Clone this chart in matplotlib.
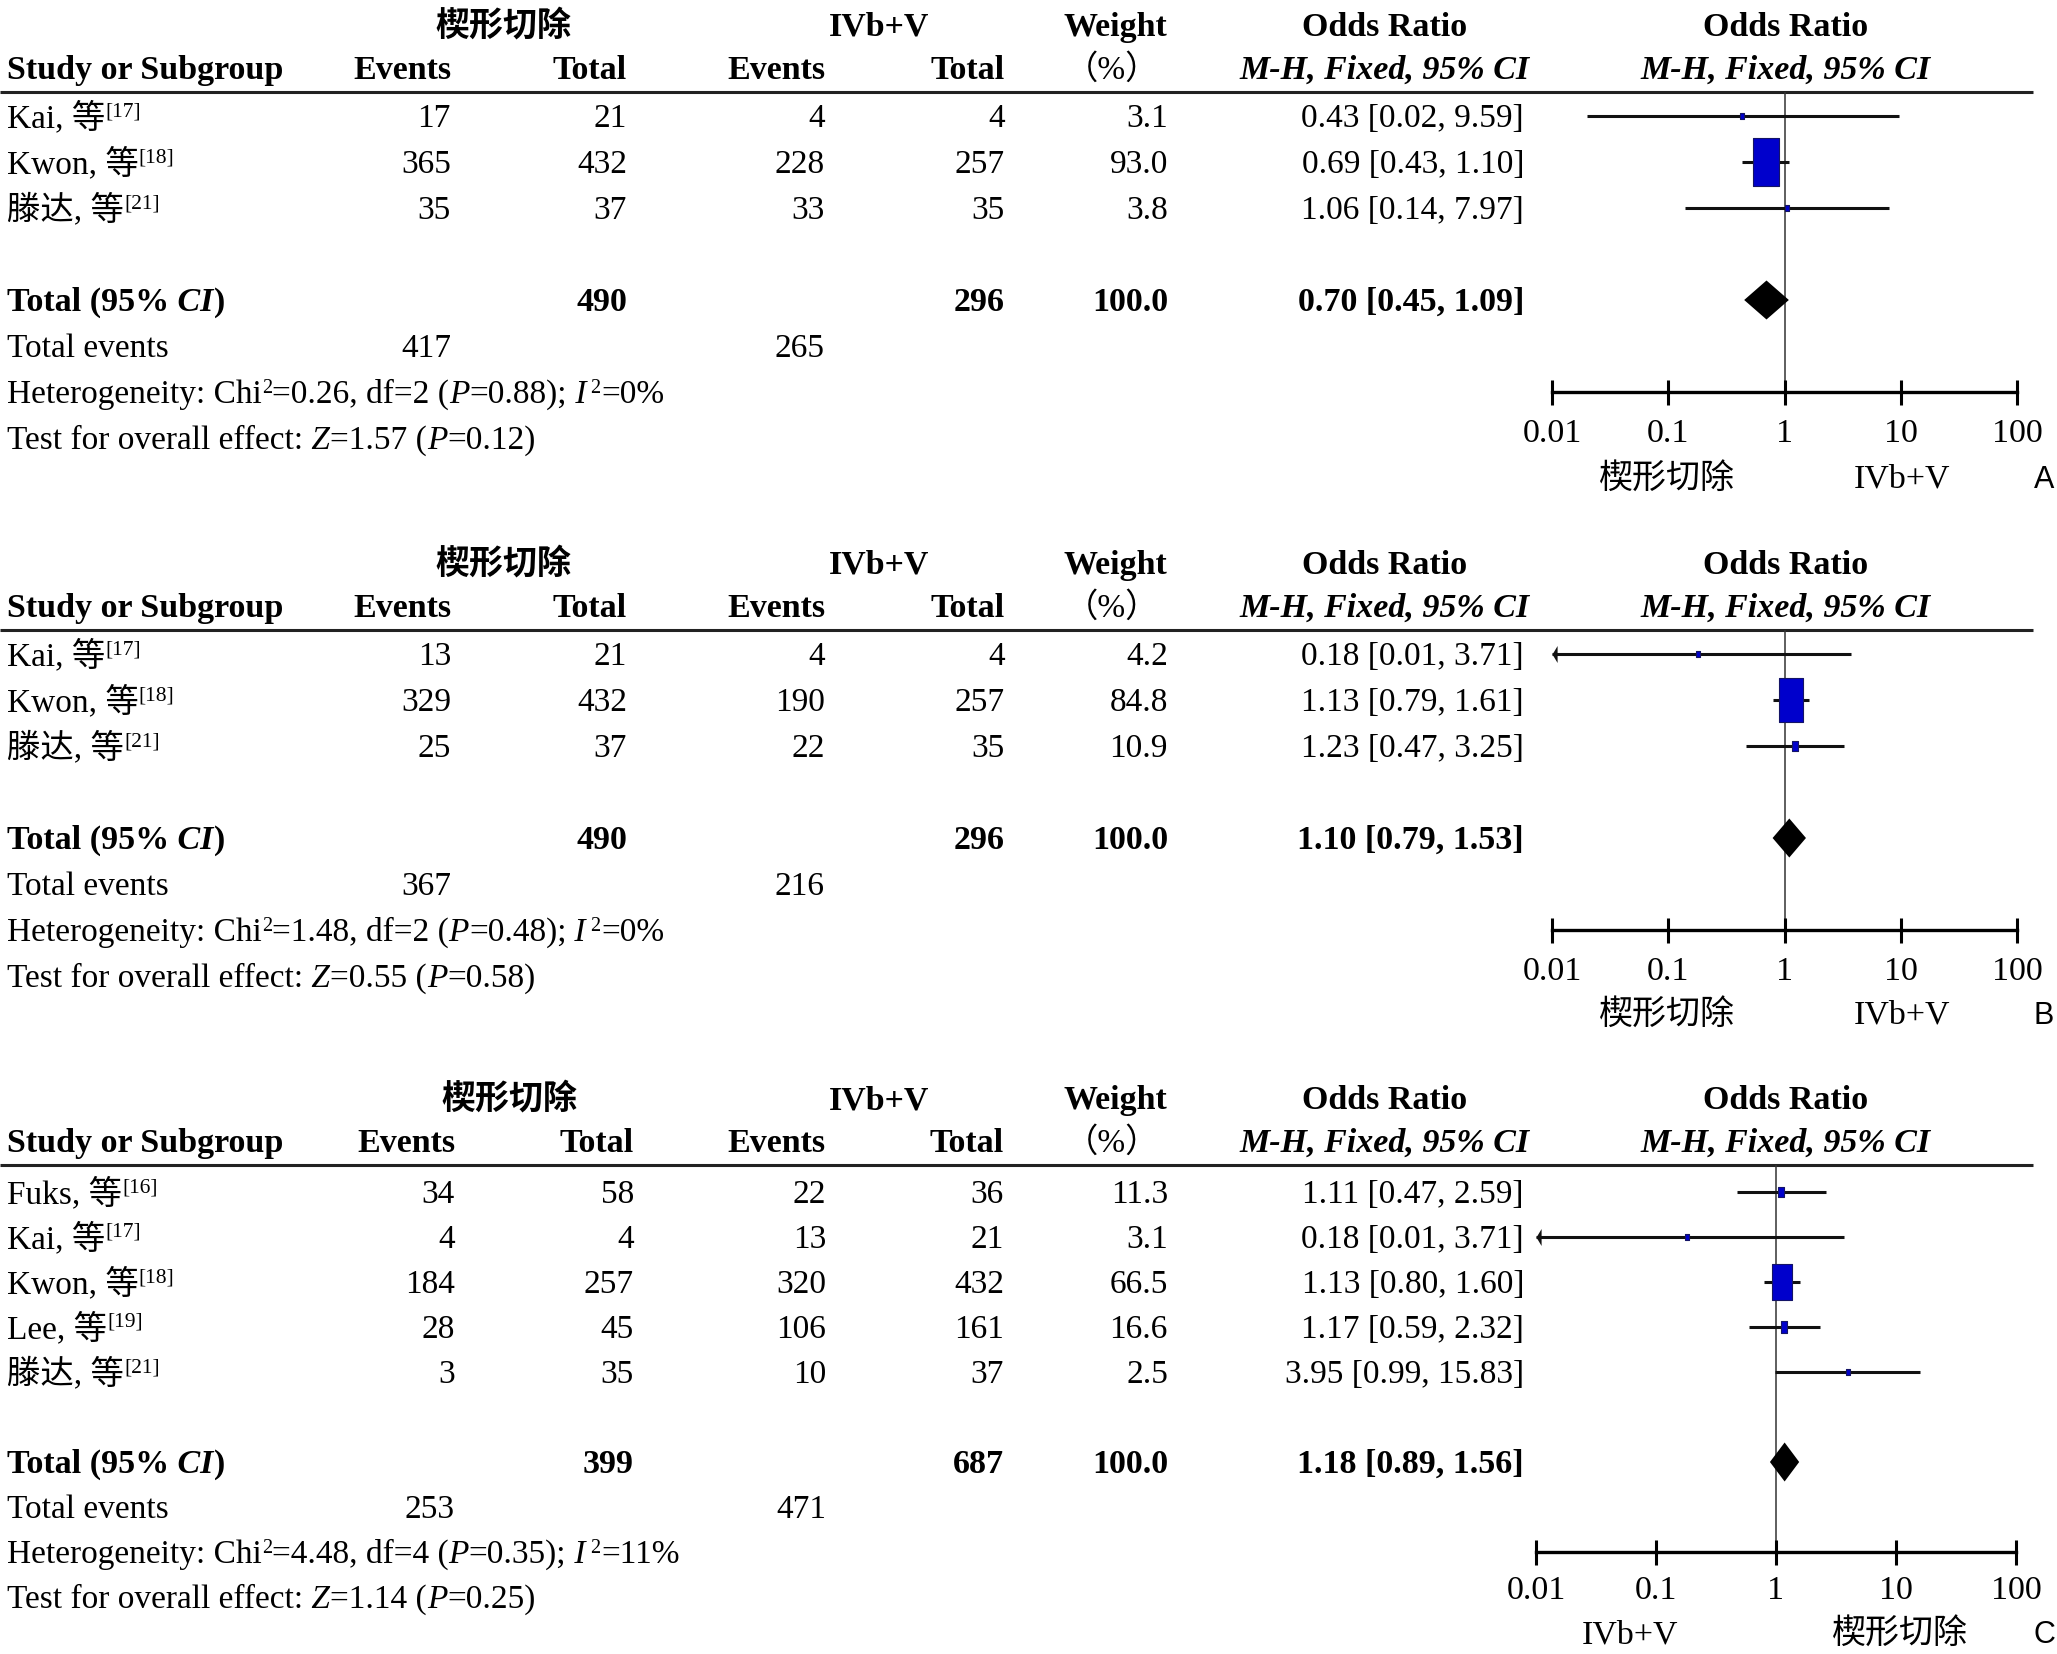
import matplotlib
matplotlib.use('Agg')
import matplotlib.pyplot as plt
from matplotlib.path import Path

# ---------------- data ----------------
tick_vals = [0.01, 0.1, 1, 10, 100]
tick_labels = ['0.01', '0.1', '1', '10', '100']
grp1 = '楔形切除'
grp2 = 'IVb+V'

# Panel A
names_A = ['Kai, 等', 'Kwon, 等', '滕达, 等']
refs_A = ['[17]', '[18]', '[21]']
ev1_A = [17, 365, 35]
tot1_A = [21, 432, 37]
ev2_A = [4, 228, 33]
tot2_A = [4, 257, 35]
wt_A = [3.1, 93.0, 3.8]
or_A = [0.43, 0.69, 1.06]
lo_A = [0.02, 0.43, 0.14]
hi_A = [9.59, 1.10, 7.97]
total_A = [490, 296, 0.70, 0.45, 1.09]   # n1, n2, OR, lo, hi
events_A = [417, 265]
het_A = ['0.26', '2', '0.88', '0%']      # chi2, df, P, I2
eff_A = ['1.57', '0.12']                 # Z, P

# Panel B
names_B = ['Kai, 等', 'Kwon, 等', '滕达, 等']
refs_B = ['[17]', '[18]', '[21]']
ev1_B = [13, 329, 25]
tot1_B = [21, 432, 37]
ev2_B = [4, 190, 22]
tot2_B = [4, 257, 35]
wt_B = [4.2, 84.8, 10.9]
or_B = [0.18, 1.13, 1.23]
lo_B = [0.01, 0.79, 0.47]
hi_B = [3.71, 1.61, 3.25]
total_B = [490, 296, 1.10, 0.79, 1.53]
events_B = [367, 216]
het_B = ['1.48', '2', '0.48', '0%']
eff_B = ['0.55', '0.58']

# Panel C
names_C = ['Fuks, 等', 'Kai, 等', 'Kwon, 等', 'Lee, 等', '滕达, 等']
refs_C = ['[16]', '[17]', '[18]', '[19]', '[21]']
ev1_C = [34, 4, 184, 28, 3]
tot1_C = [58, 4, 257, 45, 35]
ev2_C = [22, 13, 320, 106, 10]
tot2_C = [36, 21, 432, 161, 37]
wt_C = [11.3, 3.1, 66.5, 16.6, 2.5]
or_C = [1.11, 0.18, 1.13, 1.17, 3.95]
lo_C = [0.47, 0.01, 0.80, 0.59, 0.99]
hi_C = [2.59, 3.71, 1.60, 2.32, 15.83]
total_C = [399, 687, 1.18, 0.89, 1.56]
events_C = [253, 471]
het_C = ['4.48', '4', '0.35', '11%']
eff_C = ['1.14', '0.25']

# ---------------- layout ----------------
W, H = 2057, 1654
SERIF = ['Liberation Serif', 'Noto Sans CJK SC', 'DejaVu Sans']
plt.rcParams['font.family'] = SERIF
FS = 24.0
FSB = 24.5
PX = 100 / 72.0  # px per point

fig = plt.figure(figsize=(W / 100, H / 100), dpi=100)
bg = fig.add_axes([0, 0, 1, 1])
bg.set_xlim(0, W)
bg.set_ylim(H, 0)
bg.axis('off')
renderer = fig.canvas.get_renderer()

panels = [
    dict(letter='A', names=names_A, refs=refs_A, ev1=ev1_A, tot1=tot1_A, ev2=ev2_A, tot2=tot2_A,
         wt=wt_A, orr=or_A, lo=lo_A, hi=hi_A, total=total_A, events=events_A, het=het_A, eff=eff_A,
         line_y=92, row0=116, sp=46, ax_x=(1552, 2017), tick_off=38, grp_off=85,
         cols=(451, 627, 825, 1005), g1x=503, left_lab=grp1, right_lab=grp2,
         lab_x=(1667, 1902)),
    dict(letter='B', names=names_B, refs=refs_B, ev1=ev1_B, tot1=tot1_B, ev2=ev2_B, tot2=tot2_B,
         wt=wt_B, orr=or_B, lo=lo_B, hi=hi_B, total=total_B, events=events_B, het=het_B, eff=eff_B,
         line_y=630, row0=654, sp=46, ax_x=(1552, 2017), tick_off=38, grp_off=83,
         cols=(451, 627, 825, 1005), g1x=503, left_lab=grp1, right_lab=grp2,
         lab_x=(1667, 1902)),
    dict(letter='C', names=names_C, refs=refs_C, ev1=ev1_C, tot1=tot1_C, ev2=ev2_C, tot2=tot2_C,
         wt=wt_C, orr=or_C, lo=lo_C, hi=hi_C, total=total_C, events=events_C, het=het_C, eff=eff_C,
         line_y=1165, row0=1192, sp=45, ax_x=(1536, 2016), tick_off=35, grp_off=80,
         cols=(455, 634, 826, 1004), g1x=509, left_lab=grp2, right_lab=grp1,
         lab_x=(1630, 1900)),
]

BASE = 11  # baseline offset below visual centre


def txt(x, y, s, ha='right', **kw):
    if kw.get('fontweight') == 'bold':
        kw.setdefault('fontsize', FSB)
    kw.setdefault('fontsize', FS)
    return bg.text(x, y + BASE, s, ha=ha, va='baseline', **kw)


def runs(x, y, parts):
    for s, kw in parts:
        kw = dict(kw)
        dy = kw.pop('dy', 0)
        if kw.get('fontweight') == 'bold':
            kw.setdefault('fontsize', FSB)
        kw.setdefault('fontsize', FS)
        t = bg.text(x, y + BASE - dy, s, ha='left', va='baseline', **kw)
        x += t.get_window_extent(renderer).width


def box_marker(aspect):
    a = aspect / 2.0
    return Path([(-a, -0.5), (a, -0.5), (a, 0.5), (-a, 0.5), (-a, -0.5)],
                [Path.MOVETO, Path.LINETO, Path.LINETO, Path.LINETO, Path.CLOSEPOLY])


arrow_marker = Path([(0, 0), (0.3, 0.5), (0.3, -0.5), (0, 0)],
                    [Path.MOVETO, Path.LINETO, Path.LINETO, Path.CLOSEPOLY])

SUP = dict(fontsize=15.5, dy=11)
SUP2 = dict(fontsize=14.5, dy=10)
IT = dict(style='italic')

for p in panels:
    n = len(p['names'])
    ly, r0, sp = p['line_y'], p['row0'], p['sp']
    c1, c2, c3, c4 = p['cols']
    rowy = lambda i: r0 + sp * i

    # headers
    txt(p['g1x'], ly - 67, grp1, ha='center', fontweight='bold')
    txt(879, ly - 67, grp2, ha='center', fontweight='bold')
    txt(1115, ly - 67, 'Weight', ha='center', fontweight='bold')
    txt(1385, ly - 67, 'Odds Ratio', ha='center', fontweight='bold')
    txt(1786, ly - 67, 'Odds Ratio', ha='center', fontweight='bold')
    txt(7, ly - 24, 'Study or Subgroup', ha='left', fontweight='bold')
    txt(c1, ly - 24, 'Events', fontweight='bold')
    txt(c2, ly - 24, 'Total', fontweight='bold')
    txt(c3, ly - 24, 'Events', fontweight='bold')
    txt(c4, ly - 24, 'Total', fontweight='bold')
    txt(1112, ly - 24, '（%）', ha='center')
    txt(1385, ly - 24, 'M-H, Fixed, 95% CI', ha='center', fontweight='bold', style='italic')
    txt(1786, ly - 24, 'M-H, Fixed, 95% CI', ha='center', fontweight='bold', style='italic')
    bg.plot([0, 2033], [ly, ly], color='#222222', lw=2.2, solid_capstyle='butt')

    # study rows
    for i in range(n):
        y = rowy(i)
        runs(7, y, [(p['names'][i], {}), (p['refs'][i], SUP)])
        txt(c1, y, str(p['ev1'][i]))
        txt(c2, y, str(p['tot1'][i]))
        txt(c3, y, str(p['ev2'][i]))
        txt(c4, y, str(p['tot2'][i]))
        txt(1168, y, '%.1f' % p['wt'][i])
        txt(1524, y, '%.2f [%.2f, %.2f]' % (p['orr'][i], p['lo'][i], p['hi'][i]))

    # total rows
    tn1, tn2, tor, tlo, thi = p['total']
    y = rowy(n + 1)
    B = dict(fontweight='bold')
    runs(7, y, [('Total (95%', B), (' CI', dict(fontweight='bold', style='italic')), (')', B)])
    txt(c2, y, str(tn1), **B)
    txt(c4, y, str(tn2), **B)
    txt(1168, y, '100.0', **B)
    txt(1524, y, '%.2f [%.2f, %.2f]' % (tor, tlo, thi), **B)
    y = rowy(n + 2)
    txt(7, y, 'Total events', ha='left')
    txt(c1, y, str(p['events'][0]))
    txt(c3, y, str(p['events'][1]))
    chi, df, pv, i2 = p['het']
    runs(7, rowy(n + 3), [('Heterogeneity: Chi', {}), ('2', SUP2),
                          ('=%s, df=%s (' % (chi, df), {}), ('P', IT), ('=%s);' % pv, {}),
                          (' I', IT), (' 2', SUP2), ('=%s' % i2, {})])
    z, pz = p['eff']
    runs(7, rowy(n + 4), [('Test for overall effect:', {}), (' Z', IT), ('=%s (' % z, {}),
                          ('P', IT), ('=%s)' % pz, {})])

    # forest axes
    axis_y = rowy(n + 3)
    x0, x1 = p['ax_x']
    ax = fig.add_axes([x0 / W, 1 - axis_y / H, (x1 - x0) / W, (axis_y - ly) / H])
    ax.set_xscale('log')
    ax.set_xlim(0.01, 100)
    ax.set_ylim(n + 3, (ly - r0) / sp)
    ax.patch.set_alpha(0)
    for s in ['left', 'right', 'top']:
        ax.spines[s].set_visible(False)
    ax.spines['bottom'].set_linewidth(2.4)
    ax.spines['bottom'].set_color('black')
    ax.set_yticks([])
    ax.set_xticks(tick_vals)
    ax.set_xticklabels(tick_labels)
    ax.minorticks_off()
    pad_px = p['tick_off'] - 11.5 - 12.5
    ax.tick_params(axis='x', direction='inout', length=25 / PX, width=2.2,
                   pad=pad_px / PX, labelsize=FSB, colors='black')
    ax.axvline(1, color='#333333', lw=1.1, zorder=1)

    for i in range(n):
        o, lo, hi, w = p['orr'][i], p['lo'][i], p['hi'][i], p['wt'][i]
        lo_c = max(lo, 0.01)
        ax.plot([lo_c, hi], [i, i], color='#111111', lw=2.2, solid_capstyle='butt', zorder=2)
        if lo <= 0.01:
            ax.plot([0.01], [i], marker=arrow_marker, ms=17 / PX, color='#111111',
                    mew=0, zorder=3, clip_on=False)
        bw = 2.5 + 0.25 * w
        bh = 5 + 0.46 * w
        ax.plot([o], [i], marker=box_marker(bw / bh), ms=bh / PX, mfc='#0000CC',
                mec='#141466', mew=0.8, zorder=4, linestyle='none')
    yt = n + 1
    hh = 39 / sp / 2
    ax.fill([tlo, tor, thi, tor], [yt, yt - hh, yt, yt + hh], color='black', lw=0, zorder=4)

    # group labels and letter
    gy = axis_y + p['grp_off']
    txt(p['lab_x'][0], gy, p['left_lab'], ha='center', fontsize=FSB)
    txt(p['lab_x'][1], gy, p['right_lab'], ha='center', fontsize=FSB)
    txt(2044, gy, p['letter'], ha='center', family=['Liberation Sans'], fontsize=22)

fig.savefig('out.png', dpi=100)
